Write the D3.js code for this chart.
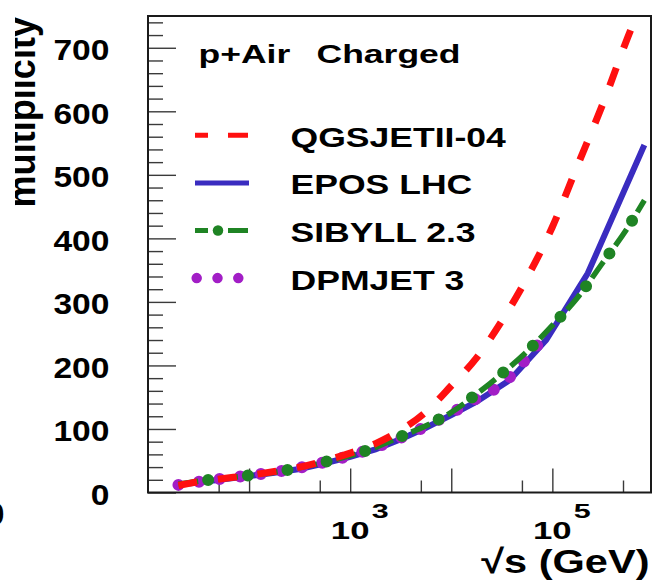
<!DOCTYPE html>
<html>
<head>
<meta charset="utf-8">
<script src="https://cdn.jsdelivr.net/npm/d3@7"></script>
<style>
  html, body { margin: 0; padding: 0; background: #fff; }
  svg { display: block; font-family: "Liberation Sans", Arial, Helvetica, sans-serif; font-weight: bold; }
</style>
</head>
<body>
<svg id="chart" width="653" height="580"></svg>
<script>
// Mean charged multiplicity in p+Air collisions vs. centre-of-mass energy √s (GeV)
const modelNames = ["QGSJETII-04", "EPOS LHC", "SIBYLL 2.3", "DPMJET 3"];

const qgsSqrtS   = [20, 32, 56, 100, 178, 316, 562, 1000, 1778, 3162, 5623, 10000, 17783, 31623, 56234, 100000, 177828, 316228, 562341, 813000];
const qgsMult    = [11, 17, 22, 27, 33, 40, 50, 62, 77, 98, 127, 168, 212, 270, 338, 418, 515, 612, 718, 780];

const eposSqrtS  = [20, 32, 56, 100, 178, 316, 562, 1000, 1778, 3162, 5623, 10000, 17783, 38000, 87000, 224000, 813000];
const eposMult   = [12, 16, 21, 26, 31, 37, 46, 56, 68, 84, 102, 122, 143, 177, 240, 345, 547];

const sibSqrtS   = [20, 32, 56, 100, 178, 316, 562, 1000, 1778, 3162, 5623, 10000, 17783, 31623, 56234, 100000, 177828, 316228, 562341, 813000];
const sibMult    = [13, 18, 22, 27, 32, 39, 48, 58, 71, 88, 105, 126, 155, 187, 222, 263, 307, 362, 418, 460];

const dpmSqrtS   = [20, 32, 56, 100, 178, 316, 562, 1000, 1778, 3162, 5623, 10000, 17783, 31623, 56234, 87000];
const dpmMult    = [12, 17, 22, 27, 32, 39, 48, 58, 71, 86, 104, 125, 148, 170, 212, 250];

// Axis ticks
const xMajorTicks = [100, 1000, 10000, 100000];
const xMinorTicks = [50, 500, 5000, 50000, 500000];
const xTickLabels = [{ value: 1000, base: "10", exp: "3" }, { value: 100000, base: "10", exp: "5" }];
const yMajorTicks = [0, 100, 200, 300, 400, 500, 600, 700];
const yMinorTicks = d3.range(0, 751, 20).filter(v => v % 100 !== 0);
const yTickLabels = ["0", "100", "200", "300", "400", "500", "600", "700"];

const svg = d3.select("#chart");
const frame = { left: 148, top: 16, right: 651, bottom: 492.5 };

const x = d3.scaleLog().domain([10, 9.46e5]).range([frame.left, frame.right]);
const y = d3.scaleLinear().domain([0, 750]).range([frame.bottom, frame.top]);

// stretched bold text helper
function label(parent, tx, ty, text, size, sx, anchor, rot) {
  const g = parent.append("g")
    .attr("transform", `translate(${tx},${ty})` + (rot ? ` rotate(${rot})` : "") + ` scale(${sx},1)`);
  g.append("text")
    .attr("x", 0).attr("y", 0)
    .attr("font-size", size)
    .attr("text-anchor", anchor || "start")
    .attr("fill", "#000")
    .text(text);
  return g;
}

const defs = svg.append("defs");
// clip for the curves
defs.append("clipPath").attr("id", "plotClip")
  .append("rect")
  .attr("x", frame.left).attr("y", frame.top)
  .attr("width", frame.right - frame.left).attr("height", frame.bottom - frame.top);
// the y title is trimmed on its upper side by the canvas margin
defs.append("clipPath").attr("id", "titleClip")
  .append("rect")
  .attr("x", 15).attr("y", 0).attr("width", 60).attr("height", 260);

// ---- axes ticks (inward, ROOT style) ----
const tickStyle = g => {
  g.select(".domain").remove();
  g.selectAll("line").attr("stroke", "#3a3a3a").attr("stroke-width", 1.4);
  g.selectAll("text").remove();
};

svg.append("g").attr("transform", `translate(0,${frame.bottom})`)
  .call(d3.axisBottom(x).tickValues(xMajorTicks).tickSize(-24).tickFormat(""))
  .call(tickStyle);
svg.append("g").attr("transform", `translate(0,${frame.bottom})`)
  .call(d3.axisBottom(x).tickValues(xMinorTicks).tickSize(-12).tickFormat(""))
  .call(tickStyle);
svg.append("g").attr("transform", `translate(${frame.left},0)`)
  .call(d3.axisLeft(y).tickValues(yMajorTicks).tickSize(-28).tickFormat(""))
  .call(tickStyle);
svg.append("g").attr("transform", `translate(${frame.left},0)`)
  .call(d3.axisLeft(y).tickValues(yMinorTicks).tickSize(-15).tickFormat(""))
  .call(tickStyle);

// ---- curves ----
const plot = svg.append("g").attr("clip-path", "url(#plotClip)");
const makeLine = (xs, curve) => d3.line()
  .x((d, i) => x(xs[i]))
  .y(d => y(d))
  .curve(curve);

const colBlue = "#3a2cc0", colRed = "#ff1010", colGreen = "#1f8424", colPurple = "#a21ec6";

// EPOS LHC: solid
plot.append("path")
  .attr("d", makeLine(eposSqrtS, d3.curveLinear)(eposMult))
  .attr("fill", "none").attr("stroke", colBlue).attr("stroke-width", 6);

// DPMJET 3: round dots
plot.append("path")
  .attr("d", makeLine(dpmSqrtS, d3.curveMonotoneX)(dpmMult))
  .attr("fill", "none").attr("stroke", colPurple).attr("stroke-width", 12)
  .attr("stroke-linecap", "round").attr("stroke-dasharray", "0 20.8");

// SIBYLL 2.3: dash + dot
const sibPath = makeLine(sibSqrtS, d3.curveMonotoneX)(sibMult);
plot.append("path")
  .attr("d", sibPath)
  .attr("fill", "none").attr("stroke", colGreen).attr("stroke-width", 5.5)
  .attr("stroke-dasharray", "20 20");
plot.append("path")
  .attr("d", sibPath)
  .attr("fill", "none").attr("stroke", colGreen).attr("stroke-width", 12)
  .attr("stroke-linecap", "round").attr("stroke-dasharray", "0 40").attr("stroke-dashoffset", -30);

// QGSJETII-04: dashed
plot.append("path")
  .attr("d", makeLine(qgsSqrtS, d3.curveMonotoneX)(qgsMult))
  .attr("fill", "none").attr("stroke", colRed).attr("stroke-width", 7)
  .attr("stroke-dasharray", "19 21");

// ---- frame ----
svg.append("rect")
  .attr("x", frame.left).attr("y", frame.top)
  .attr("width", frame.right - frame.left).attr("height", frame.bottom - frame.top)
  .attr("fill", "none").attr("stroke", "#1a1a1a").attr("stroke-width", 2);

// ---- tick labels ----
yMajorTicks.forEach((v, i) => {
  label(svg, 109.5, y(v) + 12.3, yTickLabels[i], 30, 1.12, "end");
});
xTickLabels.forEach(t => {
  label(svg, x(t.value), 539, t.base, 24.5, 1.42, "middle");
  label(svg, x(t.value) + 21.5, 518, t.exp, 21, 1.45, "start");
});

// ---- axis titles ----
label(svg, 649.5, 573.3, "√s (GeV)", 33.5, 1.24, "end");
label(svg.append("g").attr("clip-path", "url(#titleClip)"), 35, 17, "multiplicity", 38, 0.95, "end", -90);
// neighbouring panel's edge label
label(svg, 4.5, 525, "0", 32, 1.1, "end");

// ---- header ----
label(svg, 198.5, 62.5, "p+Air", 26.5, 1.34, "start");
label(svg, 316.5, 62.5, "Charged", 26.5, 1.34, "start");

// ---- legend ----
const legX0 = 195, legX1 = 249;
const legendStyles = [
  { name: modelNames[0], color: colRed, width: 5, dash: "20 20", offset: 7 },
  { name: modelNames[1], color: colBlue, width: 5, dash: null },
  { name: modelNames[2], color: colGreen, width: 5, dash: "20 20", offset: 7, dot: true },
  { name: modelNames[3], color: colPurple, width: 10.5, dash: "0 20.8", offset: -1.7, round: true }
];
legendStyles.forEach((s, i) => {
  const ly = 135.3 + i * 47.6;
  const ln = svg.append("line")
    .attr("x1", legX0).attr("x2", legX1).attr("y1", ly).attr("y2", ly)
    .attr("stroke", s.color).attr("stroke-width", s.width);
  if (s.dash) ln.attr("stroke-dasharray", s.dash).attr("stroke-dashoffset", s.offset);
  if (s.round) ln.attr("stroke-linecap", "round");
  if (s.dot) {
    svg.append("line")
      .attr("x1", legX0).attr("x2", legX1).attr("y1", ly).attr("y2", ly)
      .attr("stroke", s.color).attr("stroke-width", 10.5)
      .attr("stroke-linecap", "round").attr("stroke-dasharray", "0 40").attr("stroke-dashoffset", -23);
  }
  label(svg, 290.5, ly + 11.5, s.name, 28, 1.27, "start");
});
</script>
</body>
</html>
